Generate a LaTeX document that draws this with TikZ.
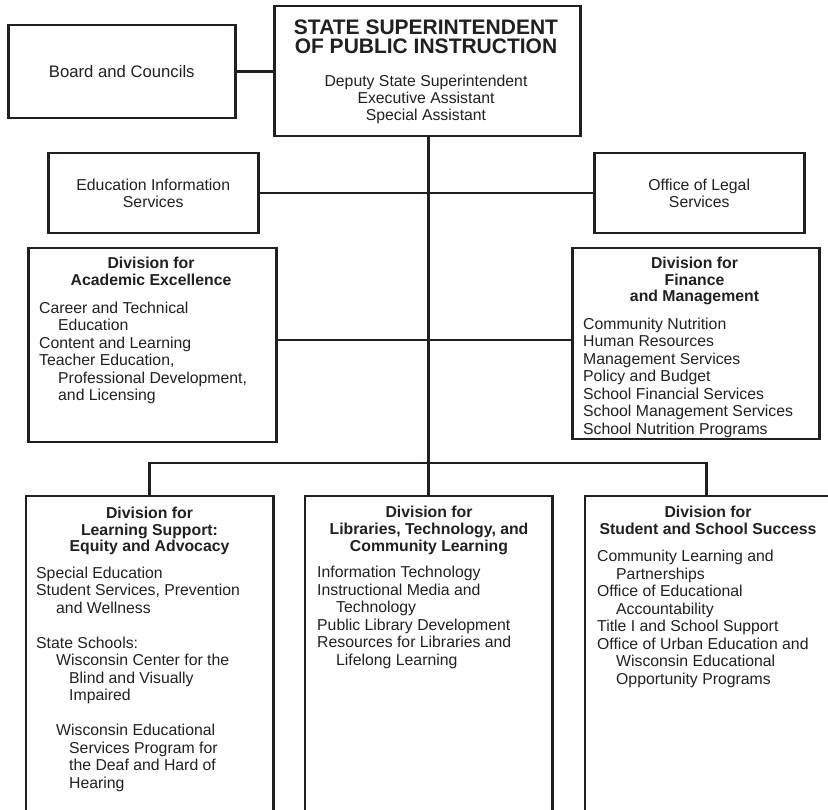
\documentclass[tikz,border=0pt]{standalone}
\usepackage{fontspec}
\setmainfont{Liberation Sans}
\definecolor{ink}{RGB}{35,31,32}
\begin{document}
\begin{tikzpicture}[x=1pt,y=-1pt,
  box/.style={draw=ink, line width=2.5pt, rectangle, inner sep=0pt, anchor=north west},
  frame/.style={draw=none, rectangle, inner sep=0pt, anchor=north west},
  link/.style={draw=ink, line width=2.5pt},
  body/.style={anchor=north west, inner sep=0pt, align=left, text=ink, font=\fontsize{15.8}{17.5}\selectfont},
  midtext/.style={inner sep=0pt, align=center, text=ink, font=\fontsize{15.8}{17.5}\selectfont},
  head/.style={anchor=north, inner sep=0pt, align=center, text=ink, font=\bfseries\fontsize{15.8}{16.7}\selectfont},
  ]
\useasboundingbox (0,0) rectangle (828,810);

% boxes
\node[box, minimum width=227pt, minimum height=93pt] (board) at (7,24) {};
\node[box, minimum width=306pt, minimum height=130pt] (supt) at (273,5) {};
\node[box, minimum width=210pt, minimum height=80pt] (edu) at (47,152) {};
\node[box, minimum width=210pt, minimum height=80pt] (legal) at (593,152) {};
\node[box, minimum width=248pt, minimum height=194pt] (acad) at (27,247) {};
\node[box, minimum width=247pt, minimum height=191pt] (fin) at (571,247) {};
\node[frame, minimum width=247pt, minimum height=316pt] (lsup) at (26,496) {};
\node[frame, minimum width=247pt, minimum height=316pt] (ltc) at (305,496) {};
\node[frame, minimum width=243pt, minimum height=316pt] (sss) at (585,496) {};
\draw[link] (lsup.south west) -- (lsup.north west) -- (lsup.north east) -- (lsup.south east);
\draw[link] (ltc.south west) -- (ltc.north west) -- (ltc.north east) -- (ltc.south east);
\draw[link] (sss.south west) -- (sss.north west) -- (sss.north east);

% connectors
\coordinate (ae) at ([yshift=5pt]acad.east);
\coordinate (fe) at ([yshift=3.5pt]fin.west);
\coordinate (bar) at (428,463);
\draw[link] (board.east) -- (board.east -| supt.west);
\draw[link] (ltc.north |- supt.south) -- (ltc.north);
\draw[link] (edu.east) -- (edu.east -| ltc.north);
\draw[link] (legal.west) -- (legal.west -| ltc.north);
\draw[link] (ae) -- (ae -| ltc.north);
\draw[link] (fe) -- (fe -| ltc.north);
\draw[link] (lsup.north) |- (bar) -| (sss.north);

% texts
\node[midtext, font=\fontsize{16.7}{18}\selectfont] (boardt) at (board.center) {Board and Councils};
\node[anchor=north, inner sep=0pt, align=center, text=ink, font=\bfseries\fontsize{21}{19.5}\selectfont] (title) at (426,19.5) {STATE SUPERINTENDENT\\OF PUBLIC INSTRUCTION};
\node[anchor=north, inner sep=0pt, align=center, text=ink, font=\fontsize{15.8}{17}\selectfont] (staff) at (426,75) {Deputy State Superintendent\\Executive Assistant\\Special Assistant};
\node[midtext] (edut) at (edu.center) {Education Information\\Services};
\node[midtext] (legalt) at (legal.center) {Office of Legal\\Services};

\node[head] (acadh) at (151,256.7) {Division for\\Academic Excellence};
\node[body] (acadb) at (39,301.7) {Career and Technical\\\hspace*{19pt}Education\\Content and Learning\\Teacher Education,\\\hspace*{19pt}Professional Development,\\\hspace*{19pt}and Licensing};

\node[head] (finh) at (694.5,256.7) {Division for\\Finance\\and Management};
\node[body] (finb) at (583,317.7) {Community Nutrition\\Human Resources\\Management Services\\Policy and Budget\\School Financial Services\\School Management Services\\School Nutrition Programs};

\node[head] (lsuph) at (149.5,506.7) {Division for\\Learning Support:\\Equity and Advocacy};
\node[body] (lsupb) at (36,566.7) {Special Education\\Student Services, Prevention\\\hspace*{20pt}and Wellness\\[17.5pt]State Schools:\\\hspace*{20pt}Wisconsin Center for the\\\hspace*{33pt}Blind and Visually\\\hspace*{33pt}Impaired\\[17.5pt]\hspace*{20pt}Wisconsin Educational\\\hspace*{33pt}Services Program for\\\hspace*{33pt}the Deaf and Hard of\\\hspace*{33pt}Hearing};

\node[head] (ltch) at (429,506) {Division for\\Libraries, Technology, and\\Community Learning};
\node[body] (ltcb) at (317,566) {Information Technology\\Instructional Media and\\\hspace*{19pt}Technology\\Public Library Development\\Resources for Libraries and\\\hspace*{19pt}Lifelong Learning};

\node[head] (sssh) at (708,506) {Division for\\Student and School Success};
\node[body] (sssb) at (597,550) {Community Learning and\\\hspace*{19pt}Partnerships\\Office of Educational\\\hspace*{19pt}Accountability\\Title I and School Support\\Office of Urban Education and\\\hspace*{19pt}Wisconsin Educational\\\hspace*{19pt}Opportunity Programs};
\end{tikzpicture}
\end{document}
